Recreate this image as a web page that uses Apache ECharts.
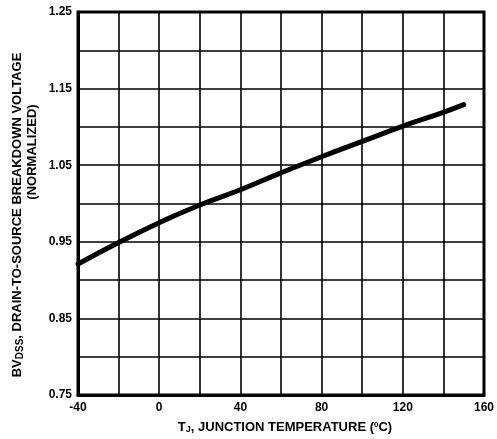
<!DOCTYPE html>
<html>
<head>
<meta charset="utf-8">
<script src="https://cdn.jsdelivr.net/npm/echarts@6/dist/echarts.min.js"></script>
<style>html,body{margin:0;padding:0;background:#fff}#c{width:497px;height:439px}</style>
</head>
<body>
<div id="c"></div>
<script>
var temperature = [-40, -20, 0, 20, 40, 60, 80, 100, 120, 140, 150];
var bvdss = [0.921, 0.949, 0.975, 0.998, 1.018, 1.040, 1.061, 1.081, 1.101, 1.119, 1.129];
var xTickLabels = [-40, 0, 40, 80, 120, 160];
var yTickLabels = ['0.75', '0.85', '0.95', '1.05', '1.15', '1.25'];

var FONT = '"Liberation Sans", Arial, sans-serif';
var chart = echarts.init(document.getElementById('c'), null, {renderer: 'canvas'});
var data = temperature.map(function (t, i) { return [t, bvdss[i]]; });

chart.setOption({
  animation: false,
  backgroundColor: '#fff',
  grid: {left: 78, top: 12, right: 9, bottom: 44, show: true, borderColor: '#000', borderWidth: 3, backgroundColor: 'transparent'},
  xAxis: {
    type: 'value', min: -40, max: 160, interval: 20,
    axisLine: {show: true, onZero: false, lineStyle: {color: '#000', width: 3}},
    axisTick: {show: false},
    splitLine: {show: true, lineStyle: {color: '#000', width: 1.6}},
    axisLabel: {
      color: '#000', fontFamily: FONT, fontWeight: 'bold', fontSize: 12, margin: 7,
      formatter: function (v) { return xTickLabels.indexOf(v) >= 0 ? String(v) : ''; }
    }
  },
  yAxis: {
    type: 'value', min: 0.75, max: 1.25, interval: 0.05,
    axisLine: {show: true, onZero: false, lineStyle: {color: '#000', width: 3}},
    axisTick: {show: false},
    splitLine: {show: true, lineStyle: {color: '#000', width: 1.6}},
    axisLabel: {
      color: '#000', fontFamily: FONT, fontWeight: 'bold', fontSize: 12, margin: 6,
      formatter: function (v) { var s = v.toFixed(2); return yTickLabels.indexOf(s) >= 0 ? s : ''; }
    }
  },
  series: [{
    type: 'line', data: data, smooth: true, showSymbol: false,
    lineStyle: {color: '#000', width: 5, cap: 'round'}
  }],
  graphic: [
    {
      type: 'text', x: 17, y: 215, rotation: Math.PI / 2,
      style: {
        text: '{a|BV}{s|DSS}{a|, DRAIN-TO-SOURCE BREAKDOWN VOLTAGE}',
        align: 'center', verticalAlign: 'middle',
        rich: {
          a: {fontFamily: FONT, fontWeight: 'bold', fontSize: 13, fill: '#000', lineHeight: 14},
          s: {fontFamily: FONT, fontWeight: 'bold', fontSize: 10, fill: '#000', lineHeight: 14, padding: [6, 0, 0, 0]}
        }
      }
    },
    {
      type: 'text', x: 32, y: 152, rotation: Math.PI / 2,
      style: {
        text: '(NORMALIZED)', align: 'center', verticalAlign: 'middle',
        font: 'bold 13px ' + FONT, fill: '#000'
      }
    },
    {
      type: 'text', x: 285, y: 427,
      style: {
        text: '{a|T}{s|J}{a|, JUNCTION TEMPERATURE (}{p|0}{a|C)}',
        align: 'center', verticalAlign: 'middle',
        rich: {
          a: {fontFamily: FONT, fontWeight: 'bold', fontSize: 13, fill: '#000', lineHeight: 14},
          s: {fontFamily: FONT, fontWeight: 'bold', fontSize: 9, fill: '#000', lineHeight: 14, padding: [6, 0, 0, 0]},
          p: {fontFamily: FONT, fontWeight: 'bold', fontSize: 8, fill: '#000', lineHeight: 14, padding: [0, 0, 5, 0]}
        }
      }
    }
  ]
});
</script>
</body>
</html>
